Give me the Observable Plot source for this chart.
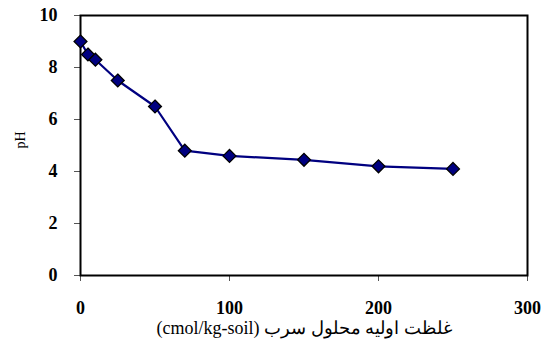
<!DOCTYPE html>
<html>
<head>
<meta charset="utf-8">
<script src="https://cdn.jsdelivr.net/npm/d3@7"></script>
<script src="https://cdn.jsdelivr.net/npm/@observablehq/plot@0.6"></script>
<style>
  html, body { margin: 0; padding: 0; background: #fff; }
  #chart svg { display: block; }
  #chart svg text { font-family: "Times New Roman", "Liberation Serif", "DejaVu Serif", serif !important; }
</style>
</head>
<body>
<div id="chart"></div>
<script>
const concentration = [0, 5, 10, 25, 50, 70, 100, 150, 200, 250];
const pH = [9.0, 8.5, 8.3, 7.5, 6.5, 4.8, 4.6, 4.45, 4.2, 4.1];
const xTicks = [0, 100, 200, 300];
const yTicks = [0, 2, 4, 6, 8, 10];
const xTitle = "(cmol/kg-soil) غلظت اولیه محلول سرب";
const yTitle = "pH";

const data = concentration.map((c, i) => ({x: c, y: pH[i]}));

const serif = "'Times New Roman', 'Liberation Serif', serif";

const chart = Plot.plot({
  width: 544,
  height: 347,
  marginLeft: 80,
  marginRight: 17,
  marginTop: 15,
  marginBottom: 72,
  style: {background: "#fff", color: "#000", fontFamily: serif},
  x: {domain: [0, 300]},
  y: {domain: [0, 10]},
  marks: [
    Plot.axisX({ticks: xTicks, tickSize: 6, tickPadding: 20, stroke: "#555", fontSize: 18, fontWeight: "bold", fill: "#000", label: null, fontFamily: serif}),
    Plot.axisY({ticks: yTicks, tickSize: 6, tickPadding: 17, stroke: "#555", fontSize: 18, fontWeight: "bold", fill: "#000", label: null, fontFamily: serif}),
    Plot.frame({stroke: "#000", strokeWidth: 2}),
    Plot.line(data, {x: "x", y: "y", stroke: "#000080", strokeWidth: 2.2}),
    Plot.dot(data, {x: "x", y: "y", symbol: "diamond2", r: 5.8, fill: "#000080", stroke: "#000", strokeWidth: 1.3}),
    Plot.text([xTitle], {frameAnchor: "bottom", dy: 58, fontSize: 18, fill: "#000", fontFamily: serif}),
    Plot.text([yTitle], {frameAnchor: "left", dx: -60, dy: 3, rotate: -90, fontSize: 14, fill: "#000", fontFamily: serif})
  ]
});
document.getElementById("chart").appendChild(chart);
</script>
</body>
</html>
